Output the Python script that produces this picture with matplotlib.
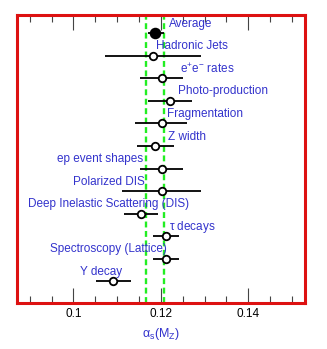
import matplotlib
matplotlib.use('Agg')
import matplotlib.pyplot as plt
from matplotlib.ticker import MultipleLocator

plt.rcParams['font.family'] = ['Liberation Sans', 'DejaVu Sans']
plt.rcParams['mathtext.fontset'] = 'custom'
plt.rcParams['mathtext.rm'] = 'Liberation Sans'
plt.rcParams['mathtext.it'] = 'Liberation Sans'
plt.rcParams['mathtext.default'] = 'regular'

# measurements, top to bottom
labels = ['Average', 'Hadronic Jets', r'e$^{+}$e$^{-}$ rates', 'Photo-production',
          'Fragmentation', 'Z width', 'ep event shapes', 'Polarized DIS',
          'Deep Inelastic Scattering (DIS)', r'$\tau$ decays',
          'Spectroscopy (Lattice)', '\u03a5 decay']
values = [0.1187, 0.1181, 0.1202, 0.1221, 0.1202, 0.1187, 0.1202, 0.1202,
          0.1155, 0.1211, 0.1211, 0.1091]
err_lo = [0.0017, 0.0109, 0.0050, 0.0051, 0.0061, 0.0041, 0.0050, 0.0090,
          0.0039, 0.0030, 0.0030, 0.0039]
err_hi = [0.0021, 0.0110, 0.0049, 0.0051, 0.0057, 0.0042, 0.0049, 0.0089,
          0.0038, 0.0031, 0.0031, 0.0040]
band = [0.1167, 0.1207]

# where each label starts (data x)
label_x = [0.1219, 0.1189, 0.1244, 0.1239, 0.1213, 0.1216, 0.0962, 0.1000,
           0.0897, 0.1219, 0.0947, 0.1014]

n = len(labels)
rows = [n - i for i in range(n)]

fig = plt.figure(figsize=(3.27, 3.49), dpi=100)
ax = fig.add_axes([0.052, 0.132, 0.881, 0.825])

for b in band:
    ax.axvline(b, color='#22ee22', ls=(0, (2.5, 1.5)), lw=1.7, zorder=1)

for i in range(n):
    filled = i == 0
    ax.errorbar(values[i], rows[i], xerr=[[err_lo[i]], [err_hi[i]]],
                fmt='o', color='black', ecolor='black', elinewidth=1.3, capsize=0,
                ms=7 if filled else 5.4, mew=1.3,
                mfc='black' if filled else 'white', mec='black', zorder=3)
    ax.text(label_x[i], rows[i] + 0.42, labels[i], color='#3333cc',
            fontsize=8.5, ha='left', va='center', zorder=4)

ax.set_xlim(0.0871, 0.1530)
ax.set_ylim(0.04, n + 0.81)
ax.set_yticks([])
ax.xaxis.set_minor_locator(MultipleLocator(0.005))
ax.set_xticks([0.10, 0.12, 0.14])
ax.set_xticklabels(['0.1', '0.12', '0.14'])
ax.tick_params(axis='x', which='both', direction='in', top=True, bottom=True,
               color='#444444', width=0.8, labelsize=8.5, pad=4)
ax.tick_params(axis='x', which='major', length=11)
ax.tick_params(axis='x', which='minor', length=5)
ax.set_xlabel(r'$\alpha_s(M_Z)$', color='#3333cc', fontsize=9, labelpad=4)

for s in ax.spines.values():
    s.set_color('#dd1111')
    s.set_linewidth(2.2)

fig.savefig('out.png', dpi=100)
